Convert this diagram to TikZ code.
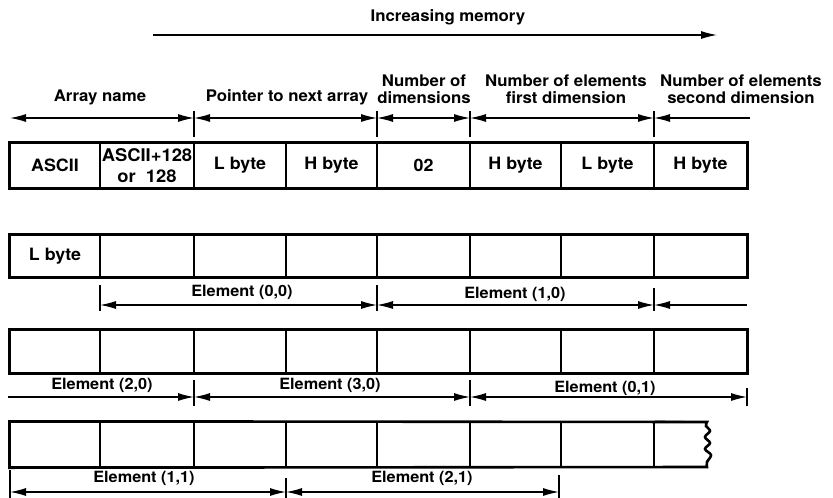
\documentclass[tikz,border=0pt]{standalone}
\usepackage{fontspec}
\setmainfont{TeX Gyre Heros}[FakeStretch=1.05]
\usetikzlibrary{arrows.meta}
\begin{document}
\begin{tikzpicture}[x=1pt,y=-1pt,
  hdr/.style={font=\bfseries\fontsize{16}{17.5}\selectfont, align=center, inner sep=0pt},
  lab/.style={font=\bfseries\fontsize{15.5}{17}\selectfont, inner sep=0pt},
  celltxt/.style={font=\bfseries\fontsize{17}{21}\selectfont, align=center, inner sep=0pt},
  cell/.style={draw, line width=1.4pt, inner sep=0pt},
  outer/.style={line width=2.6pt},
  tick/.style={line width=1.2pt},
  tip/.tip={Latex[length=16pt,width=8pt]},
  both/.style={line width=1.2pt, tip-tip},
  toright/.style={line width=1.2pt, -tip},
  toleft/.style={line width=1.2pt, tip-}]
\useasboundingbox (0,0) rectangle (833,498);

% ---- top arrow
\node[hdr] (inc) at (448,17) {Increasing memory};
\coordinate (T0) at (153,35);
\coordinate (T1) at (717,35);
\draw[toright] (T0) -- (T1);

% ---- headers
\node[hdr] (hname) at (100,97) {Array name};
\node[hdr] (hptr) at (287,97) {Pointer to next array};
\node[hdr] (hdim) at (424,89) {Number of\\dimensions};
\node[hdr] (hfirst) at (566,89) {Number of elements\\first dimension};
\node[hdr] (hsecond) at (741,89) {Number of elements\\second dimension};

\coordinate (H0) at (10,118);
\coordinate (H1) at (194,118);
\coordinate (H2) at (377,118);
\coordinate (H3) at (470,118);
\coordinate (H4) at (654,118);
\coordinate (H5) at (750,118);
\foreach \x [count=\k] in {194,377,470,654}{
  \coordinate (ha\k) at (\x,111);
  \coordinate (hb\k) at (\x,137);
  \draw[tick] (ha\k) -- (hb\k);
}
\draw[both] (H0) -- (H1);
\draw[both] (H1) -- (H2);
\draw[both] (H2) -- (H3);
\draw[both] (H3) -- (H4);
\draw[toleft] (H4) -- (H5);

% ---- row 1
\foreach \i/\a/\b in {1/10/100,2/100/194,3/194/286,4/286/377,5/377/470,6/470/561,7/561/654,8/654/747}{
  \node[cell, minimum width={(\b-\a)*1pt}, minimum height=45pt] (ra\i) at ({(\a+\b)/2},165.5) {};
}
\draw[outer] (ra1.north west) rectangle (ra8.south east);
\node[celltxt] at (ra1) {ASCII};
\node[celltxt, font=\bfseries\fontsize{17.5}{21}\selectfont] at (ra2) {ASCII+128\\or\ \ 128};
\node[celltxt] at (ra3) {L byte};
\node[celltxt] at (ra4) {H byte};
\node[celltxt] at (ra5) {02};
\node[celltxt] at (ra6) {H byte};
\node[celltxt] at (ra7) {L byte};
\node[celltxt] at (ra8) {H byte};

% ---- row 2
\foreach \i/\a/\b in {1/10/100,2/100/194,3/194/286,4/286/377,5/377/470,6/470/561,7/561/654,8/654/747}{
  \node[cell, minimum width={(\b-\a)*1pt}, minimum height=42pt] (rb\i) at ({(\a+\b)/2},256) {};
}
\draw[outer] (rb1.north west) rectangle (rb8.south east);
\node[celltxt] at (rb1) {L byte};

\coordinate (E0) at (100,305);
\coordinate (E1) at (377,305);
\coordinate (E2) at (654,305);
\coordinate (E3) at (747,305);
\foreach \x/\ya [count=\k] in {100/285,377/285,654/288}{
  \coordinate (ea\k) at (\x,\ya);
  \coordinate (eb\k) at (\x,311);
  \draw[tick] (ea\k) -- (eb\k);
}
\draw[both] (E0) -- (E1);
\draw[both] (E1) -- (E2);
\draw[toleft] (E2) -- (E3);
\node[lab] (l00) at (242,292) {Element (0,0)};
\node[lab] (l10) at (515,294) {Element (1,0)};

% ---- row 3
\foreach \i/\a/\b in {1/10/100,2/100/194,3/194/286,4/286/377,5/377/470,6/470/561,7/561/654,8/654/747}{
  \node[cell, minimum width={(\b-\a)*1pt}, minimum height=43pt] (rc\i) at ({(\a+\b)/2},351.5) {};
}
\draw[outer] (rc1.north west) rectangle (rc8.south east);

\coordinate (F0) at (8,397);
\coordinate (F1) at (194,397);
\coordinate (F2) at (470,397);
\coordinate (F3) at (747,397);
\foreach \x/\ya [count=\k] in {194/380,470/380,747/388}{
  \coordinate (fa\k) at (\x,\ya);
  \coordinate (fb\k) at (\x,406);
  \draw[tick] (fa\k) -- (fb\k);
}
\draw[toright] (F0) -- (F1);
\draw[both] (F1) -- (F2);
\draw[both] (F2) -- (F3);
\node[lab] (l20) at (102,385) {Element (2,0)};
\node[lab] (l30) at (330,385) {Element (3,0)};
\node[lab] (l01) at (605,388) {Element (0,1)};

% ---- row 4
\foreach \i/\a/\b in {1/10/100,2/100/194,3/194/286,4/286/377,5/377/470,6/470/561,7/561/654}{
  \node[cell, minimum width={(\b-\a)*1pt}, minimum height=45pt] (rd\i) at ({(\a+\b)/2},444.5) {};
}
\coordinate (W0) at (707,422);
\coordinate (W1) at (707,467);
\draw[cell] (rd7.north east) -- (W0);
\draw[outer] (rd1.north west) -- (W0)
  -- plot[smooth, tension=0.6] coordinates {(707,422) (706,426) (710,431) (705,437) (710,443) (705,449) (711,455) (707,462) (707,467)}
  -- (rd1.south west) -- cycle;

\coordinate (G0) at (10,492);
\coordinate (G1) at (286,492);
\coordinate (G2) at (559,492);
\foreach \x/\ya [count=\k] in {10/470,286/478,559/475}{
  \coordinate (ga\k) at (\x,\ya);
  \coordinate (gb\k) at (\x,498);
  \draw[tick] (ga\k) -- (gb\k);
}
\draw[both] (G0) -- (G1);
\draw[both] (G1) -- (G2);
\node[lab] (l11) at (144,478) {Element (1,1)};
\node[lab] (l21) at (422,478) {Element (2,1)};
\end{tikzpicture}
\end{document}
